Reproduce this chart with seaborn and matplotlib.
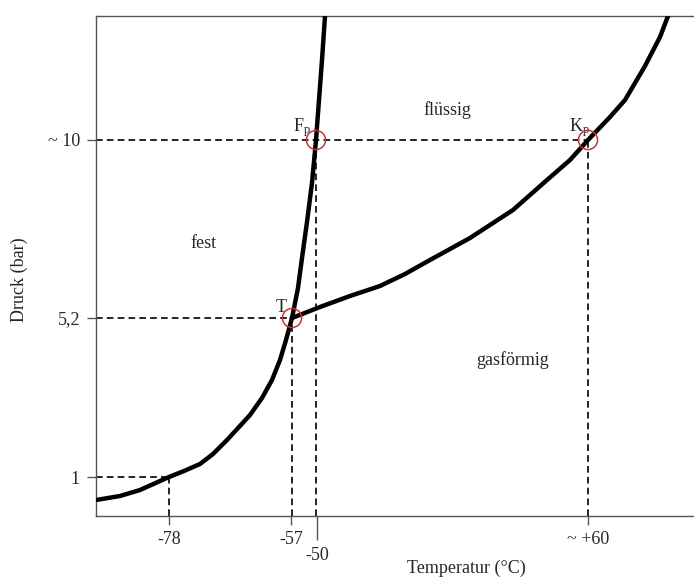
import matplotlib
matplotlib.use("Agg")
import matplotlib.pyplot as plt
import seaborn as sns
import pandas as pd

# ---- data (schematic units: phase diagram of CO2) ----
sub_x = [0, 24, 44, 73, 88, 104, 117, 131, 143, 154, 166, 176, 184, 190, 196]
sub_y = [16, 20, 26, 39, 45, 52, 62, 76, 89, 101, 118, 136, 156, 176, 198]

melt_x = [196, 199, 202, 206, 211, 216, 220, 223, 226, 229, 230]
melt_y = [198, 213, 228, 258, 294, 333, 376, 416, 456, 500, 516]

vap_x = [196, 224, 254, 284, 309, 334, 374, 417, 451, 474, 492, 514, 529, 549, 564, 572, 579]
vap_y = [198, 209, 220, 230, 242, 256, 278, 306, 336, 356, 376, 399, 416, 450, 479, 500, 516]

# special points: 1 bar at -78, triple point, melting point at ~10 bar, critical point
pt_x = [73, 196, 220, 492]
pt_y = [39, 198, 376, 376]
circle_pts = [1, 2, 3]

x_major_pos = [73, 195, 492]
x_major_labels = ["-78", "-57", "~ +60"]
x_minor_pos = [221]
x_minor_labels = ["-50"]
y_tick_pos = [39, 198, 376]
y_tick_labels = ["1", "5,2", "~ 10"]

region_labels = ["fest", "flüssig", "gasförmig"]
region_x = [107, 351, 417]
region_y = [273, 406, 156]

point_labels = ["T", r"F$_\mathrm{p}$", r"K$_\mathrm{p}$"]
point_lab_x = [185, 206, 483]
point_lab_y = [209, 388, 388]

# ---- style ----
sns.set_style("white")
plt.rcParams["font.family"] = ["Liberation Serif", "DejaVu Serif"]
plt.rcParams["mathtext.fontset"] = "custom"
plt.rcParams["mathtext.rm"] = "Liberation Serif"
plt.rcParams["mathtext.it"] = "Liberation Serif:italic"
FS = 13

W, H = 694, 583
fig = plt.figure(figsize=(W / 100, H / 100), dpi=100)
ax = fig.add_axes([96 / W, (H - 516) / H, 740 / W, 500 / H])
ax.set_xlim(0, 740)
ax.set_ylim(0, 500)

# dashed guide lines
dash = dict(color="black", lw=1.2, ls=(0, (4, 2.5)), zorder=1)
for i in [0, 1, 3]:
    ax.hlines(pt_y[i], 0, pt_x[i], **dash)
for i in range(4):
    ax.vlines(pt_x[i], 0, pt_y[i], **dash)

# phase boundary curves
for xs, ys in [(sub_x, sub_y), (melt_x, melt_y), (vap_x, vap_y)]:
    df = pd.DataFrame({"x": xs, "y": ys})
    sns.lineplot(data=df, x="x", y="y", sort=False, estimator=None,
                 color="black", lw=3.2, ax=ax, zorder=3,
                 solid_joinstyle="round", solid_capstyle="round")

# circles
cdf = pd.DataFrame({"x": [pt_x[i] for i in circle_pts], "y": [pt_y[i] for i in circle_pts]})
sns.scatterplot(data=cdf, x="x", y="y", s=190, marker="o", facecolor="none",
                edgecolor="#cc3333", linewidth=1.1, ax=ax, zorder=4)

for t, x, y in zip(region_labels, region_x, region_y):
    ax.text(x, y, t, ha="center", va="center", fontsize=FS)
for t, x, y in zip(point_labels, point_lab_x, point_lab_y):
    ax.text(x, y, t, ha="center", va="center", fontsize=FS)

# axes / ticks
for s in ["left", "bottom", "top", "right"]:
    ax.spines[s].set_color("#555555")
    ax.spines[s].set_linewidth(1.0)

ax.set_xticks(x_major_pos, x_major_labels)
ax.set_xticks(x_minor_pos, x_minor_labels, minor=True)
ax.set_yticks(y_tick_pos, y_tick_labels)
ax.tick_params(axis="x", which="major", direction="out", length=6.5, width=1,
               color="#555555", pad=4, labelsize=FS, bottom=True)
ax.tick_params(axis="x", which="minor", direction="out", length=17.5, width=1,
               color="#555555", pad=5, labelsize=FS, bottom=True)
ax.tick_params(axis="y", direction="out", length=6.5, width=1,
               color="#555555", pad=5, labelsize=FS, left=True)

ax.set_xlabel("Temperatur (°C)", fontsize=FS)
ax.set_ylabel("Druck (bar)", fontsize=FS)
ax.xaxis.set_label_coords(0.5, -0.088)
ax.yaxis.set_label_coords(-0.092, 0.472)

fig.savefig("out.png", dpi=100)
